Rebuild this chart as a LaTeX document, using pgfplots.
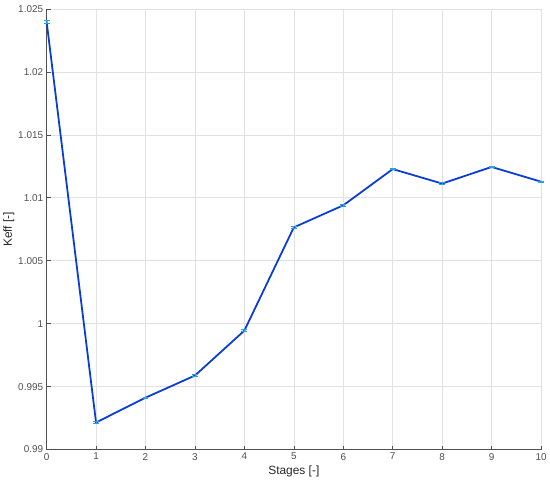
\documentclass[border=0pt]{standalone}
\usepackage{pgfplots}
\pgfplotsset{compat=1.18}
\usepackage{fontspec}
\setmainfont{Liberation Sans}
\definecolor{lineblue}{RGB}{10,60,215}
\definecolor{errcyan}{RGB}{40,160,220}
\definecolor{axgray}{RGB}{80,80,80}
\definecolor{gridgray}{RGB}{225,225,225}
\begin{document}
\begin{tikzpicture}
\begin{axis}[
  scale only axis,
  width=496bp, height=442bp,
  xmin=0, xmax=10, ymin=0.99, ymax=1.025,
  xtick={0,1,...,10},
  ytick={0.99,0.995,1,1.005,1.01,1.015,1.02,1.025},
  yticklabels={0.99,0.995,1,1.005,1.01,1.015,1.02,1.025},
  axis lines*=left,
  axis line style={axgray, line width=0.6pt},
  tick style={axgray, line width=0.6pt},
  tick align=inside,
  major tick length=4bp,
  grid=major,
  major grid style={gridgray, line width=0.6pt},
  tick label style={font=\fontsize{10}{12}\selectfont, text=axgray},
  /pgf/number format/assume math mode=true,
  xlabel={Stages [-]},
  ylabel={Keff [-]},
  label style={font=\fontsize{12}{14}\selectfont, text=black!85},
  xlabel style={yshift=1bp},
  ylabel style={yshift=-3bp},
  clip=false,
]
\addplot[
  lineblue, line width=1.8pt, mark=none,
  error bars/.cd, y dir=both, y explicit,
  error bar style={errcyan, line width=0.8pt},
  error mark options={errcyan, rotate=90, mark size=3bp, line width=0.8pt},
] table[x=x, y=y, y error=e] {
x y e
0 1.0240 0.00012
1 0.99215 0.00008
2 0.99412 0.00006
3 0.99588 0.00006
4 0.99945 0.00006
5 1.00765 0.00006
6 1.00940 0.00006
7 1.01228 0.00006
8 1.01113 0.00006
9 1.01245 0.00006
10 1.01128 0.00006
};
\coordinate (sw) at (rel axis cs:0,0);
\coordinate (ne) at (rel axis cs:1,1);
\end{axis}
\path ([shift={(-45bp,-36bp)}]sw) rectangle ([shift={(9bp,9bp)}]ne);
\end{tikzpicture}
\end{document}
